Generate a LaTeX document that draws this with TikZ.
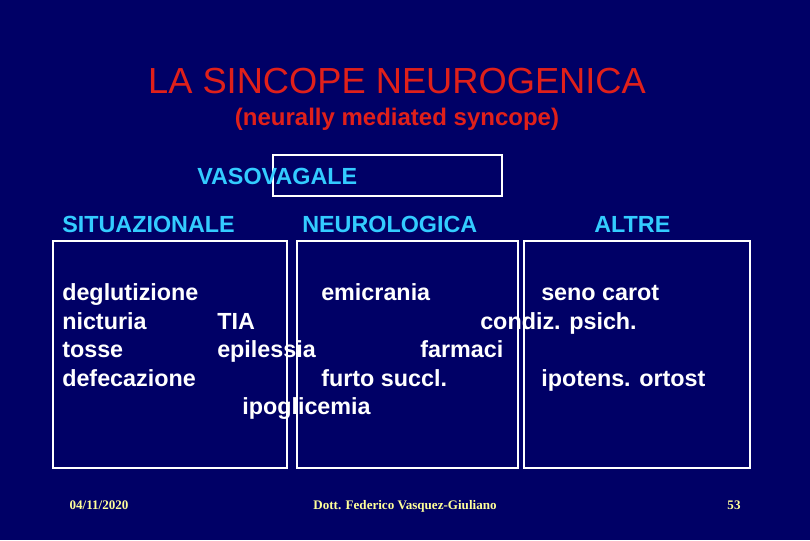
\documentclass[tikz,border=0pt]{standalone}
\usepackage{fontspec}
\setmainfont{Liberation Sans}
\newfontfamily\serifft{Liberation Serif}
\definecolor{bg}{HTML}{000066}
\definecolor{head}{HTML}{33CCFF}
\definecolor{ttl}{HTML}{E0201A}
\definecolor{ft}{HTML}{FFFF99}
\begin{document}
\begin{tikzpicture}[x=0.75pt,y=-0.75pt,
  box/.style={draw=white,line width=2.2pt},
  body/.style={anchor=base west,inner sep=0pt,text=white,font=\fontsize{17.5}{20}\selectfont\bfseries},
  hd/.style={body,text=head},
  foot/.style={anchor=base,inner sep=0pt,text=ft,font=\fontsize{9.8}{12}\selectfont\serifft\bfseries}]
\fill[bg] (0,0) rectangle (810,540);
\useasboundingbox (0,0) rectangle (810,540);
\node[anchor=base,inner sep=0pt,text=ttl,font=\fontsize{27.2}{30}\selectfont] (t) at (397,93) {LA SINCOPE NEUROGENICA};
\node[anchor=base,inner sep=0pt,text=ttl,font=\fontsize{18}{20}\selectfont\bfseries] (st) at (397,125) {(neurally mediated syncope)};
\draw[box] (273,155) rectangle (502,196);
\draw[box] (53,241) rectangle (287,468);
\draw[box] (297,241) rectangle (518,468);
\draw[box] (524,241) rectangle (750,468);
\node[hd] (vv) at (197,184) {VASOVAGALE};
\node[hd] (h1) at (62,232) {SITUAZIONALE};
\node[hd] (h2) at (302,232) {NEUROLOGICA};
\node[hd] (h3) at (594,232) {ALTRE};
\node[body] (a1) at (62,300) {deglutizione};
\node[body] (a2) at (62,329) {nicturia};
\node[body] (a3) at (62,357) {tosse};
\node[body] (a4) at (62,386) {defecazione};
\node[body] (n1) at (217,329) {TIA};
\node[body] (n2) at (217,357) {epilessia};
\node[body] (n3) at (242,414) {ipoglicemia};
\node[body] (n4) at (321,300) {emicrania};
\node[body] (n5) at (321,386) {furto succl.};
\node[body] (n6) at (420,357) {farmaci};
\node[body] (n7) at (480,329) {condiz. psich.};
\node[body] (o1) at (541,300) {seno carot};
\node[body] (o2) at (541,386) {ipotens. ortost};
\node[foot] (f1) at (99,509) {04/11/2020};
\node[foot] (f2) at (405,509) {Dott. Federico Vasquez-Giuliano};
\node[foot] (f3) at (734,509) {53};
\end{tikzpicture}
\end{document}
